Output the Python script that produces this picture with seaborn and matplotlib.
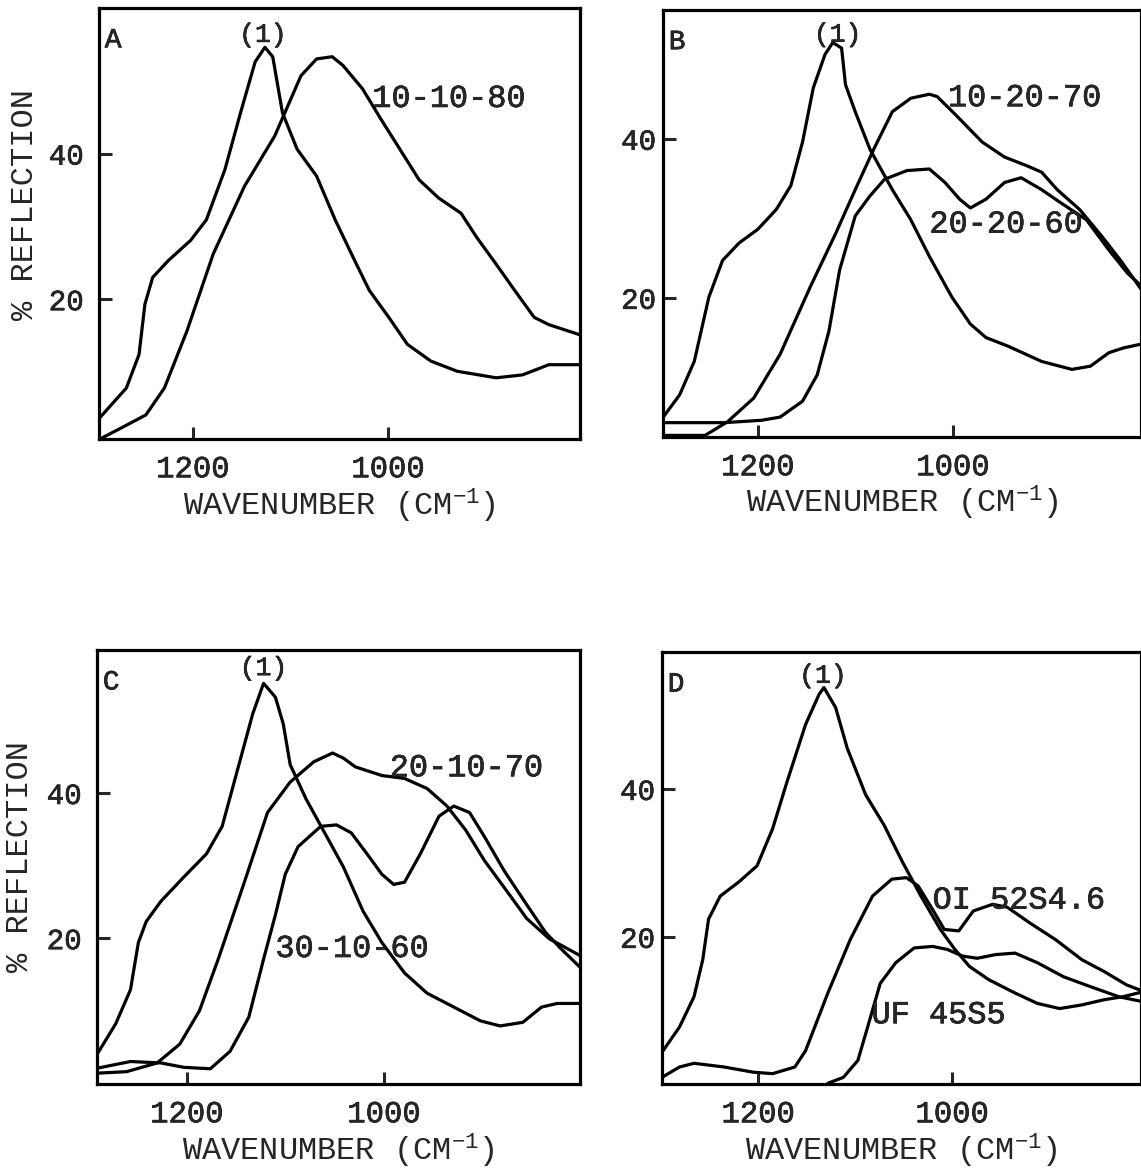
import matplotlib
matplotlib.use("Agg")
import matplotlib.pyplot as plt
import matplotlib.patheffects as pe
import seaborn as sns

# ==========================================
# Data (wavenumber in cm-1, % reflection)
# ==========================================

# Panel A
a_ref_wn = [1296, 1268, 1255, 1249, 1241, 1225, 1202, 1186, 1167, 1151, 1136, 1126,
            1118, 1108, 1093, 1073, 1054, 1034, 1019, 999, 980, 956, 929, 889, 862, 835, 803]
a_ref_r = [3.6, 7.8, 12.4, 19.3, 23.0, 25.3, 28.1, 30.9, 37.8, 45.6, 52.6, 54.6,
           53.3, 45.6, 40.6, 36.9, 30.9, 25.3, 21.2, 17.5, 13.8, 11.5, 10.1, 9.2, 9.6, 11.0, 11.0]
a_1080_wn = [1295, 1272, 1248, 1229, 1206, 1179, 1147, 1116, 1089, 1073, 1057, 1046,
             1026, 1007, 983, 968, 948, 925, 909, 889, 870, 850, 835, 803]
a_1080_r = [0.8, 2.4, 4.1, 7.8, 15.6, 26.2, 35.5, 42.4, 50.7, 53.0, 53.3, 52.1,
            48.9, 44.7, 39.6, 36.4, 33.9, 31.8, 28.5, 24.8, 21.2, 17.5, 16.5, 15.1]

# Panel B
b_ref_wn = [1298, 1280, 1265, 1250, 1236, 1219, 1200, 1181, 1166, 1154, 1143, 1131, 1123,
            1114, 1110, 1100, 1085, 1062, 1043, 1024, 1001, 982, 966, 943, 909, 878, 859,
            840, 825, 806]
b_ref_r = [4.8, 7.8, 12.0, 20.1, 24.7, 26.9, 28.6, 31.1, 34.1, 39.6, 46.4, 50.6, 52.1,
           51.4, 46.8, 43.4, 38.7, 33.6, 29.8, 25.2, 20.1, 16.7, 15.0, 13.9, 12.0, 11.0, 11.4,
           13.1, 13.7, 14.2]
b_2070_wn = [1298, 1254, 1231, 1204, 1177, 1146, 1120, 1100, 1081, 1062, 1043, 1024, 1016,
             997, 970, 947, 924, 909, 893, 870, 847, 828, 806]
b_2070_r = [2.7, 2.7, 4.4, 7.4, 12.9, 21.4, 28.1, 33.6, 38.7, 43.4, 45.1, 45.6, 45.3,
            43.0, 39.6, 37.7, 36.6, 35.8, 33.6, 31.1, 27.7, 24.7, 20.9]
b_2060_wn = [1298, 1234, 1196, 1177, 1154, 1139, 1127, 1116, 1100, 1085, 1070, 1047, 1024,
             1008, 993, 982, 966, 947, 930, 909, 890, 863, 840, 821, 806]
b_2060_r = [4.3, 4.3, 4.6, 5.0, 7.0, 10.3, 15.8, 23.5, 30.3, 32.8, 34.9, 36.0, 36.2,
            34.5, 32.4, 31.3, 32.4, 34.5, 35.1, 33.6, 32.0, 29.8, 26.0, 23.1, 21.4]

# Panel C
c_ref_wn = [1290, 1272, 1257, 1249, 1241, 1226, 1203, 1180, 1164, 1149, 1133, 1122, 1110,
            1102, 1095, 1079, 1060, 1041, 1021, 1002, 979, 956, 929, 902, 882, 859, 840,
            824, 801]
c_ref_r = [4.2, 8.2, 12.9, 19.4, 22.3, 25.1, 28.4, 31.6, 35.4, 42.9, 50.9, 55.1, 53.2,
           49.5, 43.9, 39.2, 34.5, 29.8, 23.7, 19.4, 15.2, 12.4, 10.5, 8.6, 7.9, 8.4, 10.5,
           11.0, 11.0]
c_2070_wn = [1290, 1261, 1230, 1207, 1187, 1168, 1141, 1118, 1095, 1071, 1052, 1041, 1029,
             1002, 979, 956, 936, 917, 898, 878, 855, 832, 801]
c_2070_r = [1.4, 1.6, 2.8, 5.4, 10.0, 17.1, 27.9, 37.3, 41.5, 44.3, 45.5, 44.8, 43.6,
            42.4, 42.0, 40.6, 38.2, 34.9, 30.7, 27.0, 22.7, 19.9, 17.6]
c_3060_wn = [1290, 1257, 1226, 1203, 1176, 1156, 1137, 1122, 1110, 1100, 1087, 1064, 1048,
             1033, 1017, 1002, 990, 979, 963, 944, 929, 913, 898, 878, 855, 836, 820, 801]
c_3060_r = [2.1, 3.0, 2.8, 2.2, 2.0, 4.4, 9.1, 17.1, 23.2, 28.8, 32.6, 35.4, 35.6,
            34.5, 31.6, 28.8, 27.4, 27.7, 31.6, 36.8, 38.2, 37.3, 34.0, 29.3, 24.6, 20.8,
            18.5, 16.0]

# Panel D
d_ref_wn = [1299, 1281, 1266, 1257, 1251, 1239, 1220, 1201, 1185, 1170, 1151, 1137, 1132,
            1120, 1108, 1089, 1070, 1051, 1032, 1012, 997, 982, 962, 935, 912, 889, 866,
            843, 824, 802]
d_ref_r = [4.4, 7.8, 11.9, 16.9, 22.4, 25.5, 27.4, 29.6, 34.6, 41.0, 48.7, 52.8, 53.7,
           51.0, 45.5, 39.2, 35.1, 30.1, 25.5, 21.0, 18.3, 16.0, 14.2, 12.4, 11.0, 10.3, 10.8,
           11.5, 11.9, 12.6]
d_oi_wn = [1299, 1281, 1266, 1235, 1205, 1185, 1162, 1151, 1128, 1105, 1082, 1062, 1047,
           1035, 1020, 1008, 993, 978, 958, 943, 920, 893, 866, 843, 820, 802]
d_oi_r = [1.0, 2.4, 2.9, 2.4, 1.7, 1.5, 2.4, 4.6, 12.4, 19.6, 25.5, 27.8, 28.0,
          26.9, 23.7, 21.0, 20.8, 23.5, 24.4, 24.0, 21.9, 19.6, 16.9, 15.3, 13.5, 12.6]
d_uf_wn = [1128, 1112, 1097, 1085, 1074, 1058, 1039, 1020, 1005, 989, 974, 955, 935,
           912, 885, 858, 828, 802]
d_uf_r = [0.2, 1.0, 3.3, 8.7, 13.7, 16.5, 18.5, 18.7, 18.3, 17.4, 17.1, 17.6, 17.8,
          16.5, 14.6, 13.3, 11.9, 11.2]

ytick_vals = [20, 40]
xtick_vals = [1200, 1000]

# ==========================================
# Style
# ==========================================

sns.set_style("white")
plt.rcParams["font.family"] = ["Liberation Mono", "DejaVu Sans"]
plt.rcParams["mathtext.fontset"] = "custom"
plt.rcParams["mathtext.rm"] = "Liberation Mono"
plt.rcParams["mathtext.default"] = "regular"

LW = 2.3
BIG = 23
# thicken the thin mono glyphs slightly, typewriter look
INK = [pe.withStroke(linewidth=0.45, foreground="black")]

fig = plt.figure(figsize=(11.41, 11.69), dpi=100)

# name, axes rect, xlim, ylim, curves, labels, y-label pos, ytick pad
panels = [
    ("A", [0.0868, 0.6245, 0.4216, 0.3687], (1296, 803), (0.8, 60),
     [(a_ref_wn, a_ref_r), (a_1080_wn, a_1080_r)],
     [("(1)", 1128, 56.3, "center", 19), ("10-10-80", 1016, 47.5, "left", BIG)],
     (0.543, -0.154), 11),
    ("B", [0.5811, 0.6262, 0.4190, 0.3653], (1297, 807), (2.5, 56.2),
     [(b_ref_wn, b_ref_r), (b_2070_wn, b_2070_r), (b_2060_wn, b_2060_r)],
     [("(1)", 1118, 53.1, "center", 19), ("10-20-70", 1005, 45.1, "left", BIG),
      ("20-20-60", 1024, 29.2, "left", BIG)],
     None, 5),
    ("C", [0.0850, 0.0727, 0.4233, 0.3713], (1291, 801), (-0.1, 59.7),
     [(c_ref_wn, c_ref_r), (c_2070_wn, c_2070_r), (c_3060_wn, c_3060_r)],
     [("(1)", 1122, 57.2, "center", 19), ("20-10-70", 994, 43.4, "left", BIG),
      ("30-10-60", 1110, 18.5, "left", BIG)],
     (0.525, -0.16), 11),
    ("D", [0.5802, 0.0727, 0.4199, 0.3695], (1299, 805), (0.1, 58.5),
     [(d_ref_wn, d_ref_r), (d_oi_wn, d_oi_r), (d_uf_wn, d_uf_r)],
     [("(1)", 1133, 55.3, "center", 19), ("OI 52S4.6", 1020, 24.9, "left", BIG),
      ("UF 45S5", 1083, 9.4, "left", BIG)],
     None, 5),
]

for name, rect, xlim, ylim, curves, labels, ylab, ypad in panels:
    ax = fig.add_axes(rect)

    for wn, r in curves:
        sns.lineplot(x=wn, y=r, ax=ax, color="black", linewidth=LW,
                     sort=False, estimator=None, legend=False)

    ax.set_xlim(*xlim)
    ax.set_ylim(*ylim)
    ax.set_xticks(xtick_vals)
    ax.set_yticks(ytick_vals)

    for s in ax.spines.values():
        s.set_visible(True)
        s.set_color("black")
        s.set_linewidth(LW)

    ax.tick_params(axis="x", direction="in", length=9, width=2.2,
                   labelsize=BIG - 1, pad=11, bottom=True)
    ax.tick_params(axis="y", direction="in", length=9, width=2.2,
                   labelsize=BIG - 2, pad=ypad, left=True)
    for lbl in ax.get_xticklabels() + ax.get_yticklabels():
        lbl.set_path_effects(INK)

    ax.set_xlabel("WAVENUMBER (CM$^{-1}$)", fontsize=BIG)
    ax.xaxis.set_label_coords(0.5, -0.11)

    if ylab is not None:
        ax.set_ylabel("% REFLECTION", fontsize=BIG, va="center")
        ax.yaxis.set_label_coords(ylab[1], ylab[0])
    else:
        ax.set_ylabel("")

    ax.text(0.012, 0.955, name, transform=ax.transAxes, ha="left", va="top",
            fontsize=20, path_effects=INK)

    for txt, x, y, ha, fs in labels:
        ax.text(x, y, txt, ha=ha, va="center", fontsize=fs, path_effects=INK)

plt.savefig("out.png", dpi=100)
